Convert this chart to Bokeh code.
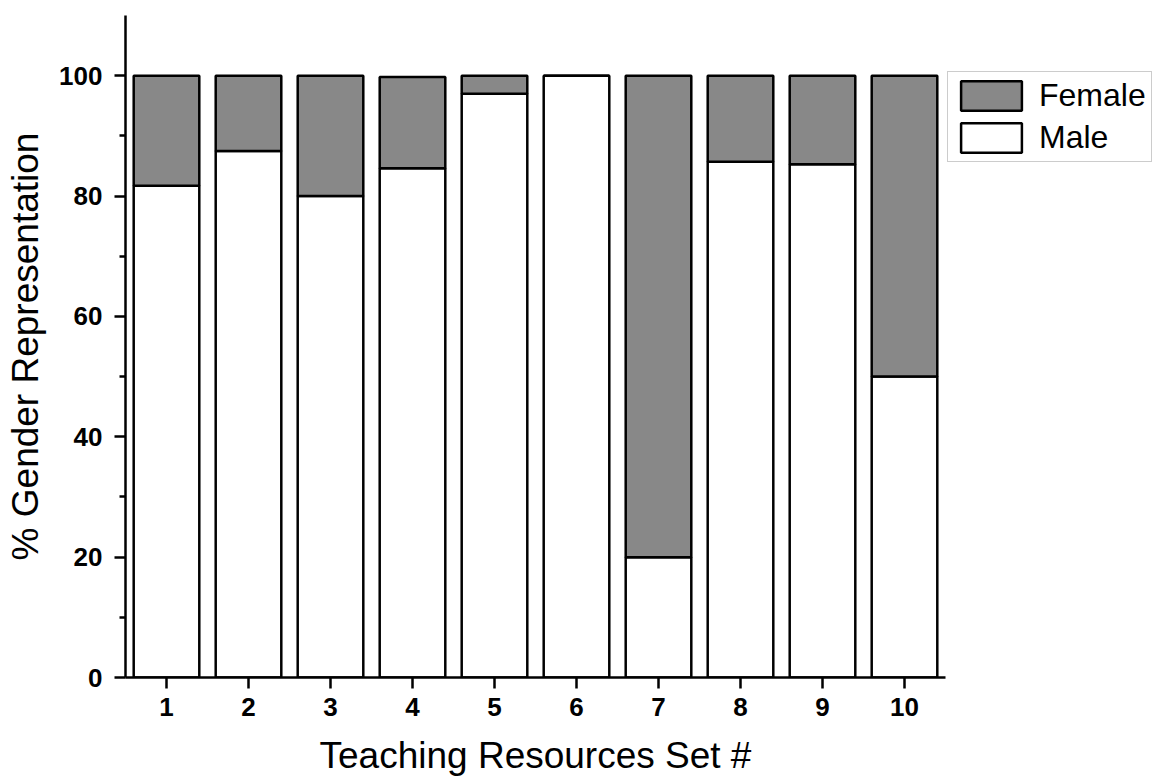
from bokeh.plotting import figure
from bokeh.models import ColumnDataSource, Range1d, Legend, LegendItem, FixedTicker
from bokeh.embed import file_html
from bokeh.resources import INLINE

sets = [1, 2, 3, 4, 5, 6, 7, 8, 9, 10]
male = [81.7, 87.5, 80.0, 84.6, 97.0, 100.0, 20.0, 85.7, 85.3, 50.0]
female = [18.3, 12.5, 20.0, 15.2, 3.0, 0.0, 80.0, 14.3, 14.7, 50.0]
y_ticks = [0, 20, 40, 60, 80, 100]

source = ColumnDataSource(data=dict(x=sets, Male=male, Female=female))

FONT = "Liberation Sans"

p = figure(
    output_backend="svg", toolbar_location=None,
    frame_width=820, frame_height=662,
    min_border_left=125, min_border_top=15, min_border_right=0, min_border_bottom=90,
    x_range=Range1d(0.5, 10.5), y_range=Range1d(0, 110),
    background_fill_color="white", border_fill_color="white",
)
p.outline_line_color = None
p.grid.visible = False

rs = p.vbar_stack(["Male", "Female"], x="x", width=0.8, source=source,
                  fill_color=["white", "#888888"], line_color="black", line_width=2.5)

legend = Legend(items=[LegendItem(label="Female", renderers=[rs[1]]),
                       LegendItem(label="Male", renderers=[rs[0]])],
                location=(2, 515))
legend.margin = 0
legend.padding = 5
legend.spacing = 5
legend.glyph_width = 76
legend.glyph_height = 37
legend.label_standoff = 10
legend.label_text_font = FONT
legend.label_text_font_size = "32px"
legend.label_text_color = "black"
legend.border_line_color = "#999999"
legend.border_line_width = 1
legend.background_fill_color = "white"
p.add_layout(legend, "right")

# axes
xa = p.xaxis[0]
xa.ticker = FixedTicker(ticks=sets)
xa.axis_label = "Teaching Resources Set #"
ya = p.yaxis[0]
ya.ticker = FixedTicker(ticks=y_ticks, minor_ticks=[10, 30, 50, 70, 90])
ya.axis_label = "% Gender Representation"

for ax in (xa, ya):
    ax.axis_line_width = 2.5
    ax.axis_line_color = "black"
    ax.major_tick_line_width = 2.5
    ax.major_tick_line_color = "black"
    ax.minor_tick_line_width = 2.5
    ax.minor_tick_line_color = "black"
    ax.major_tick_in = 0
    ax.major_tick_out = 11
    ax.minor_tick_in = 0
    ax.major_label_text_font = FONT
    ax.major_label_text_font_style = "bold"
    ax.major_label_text_font_size = "26px"
    ax.major_label_text_color = "black"
    ax.axis_label_text_font = FONT
    ax.axis_label_text_font_style = "normal"
    ax.axis_label_text_font_size = "37px"
    ax.axis_label_text_color = "black"

xa.minor_tick_out = 0
xa.major_label_standoff = 9
xa.axis_label_standoff = 16
ya.minor_tick_out = 6
ya.major_label_standoff = 12
ya.axis_label_standoff = 10

open("out.html", "w").write(file_html(p, INLINE))
